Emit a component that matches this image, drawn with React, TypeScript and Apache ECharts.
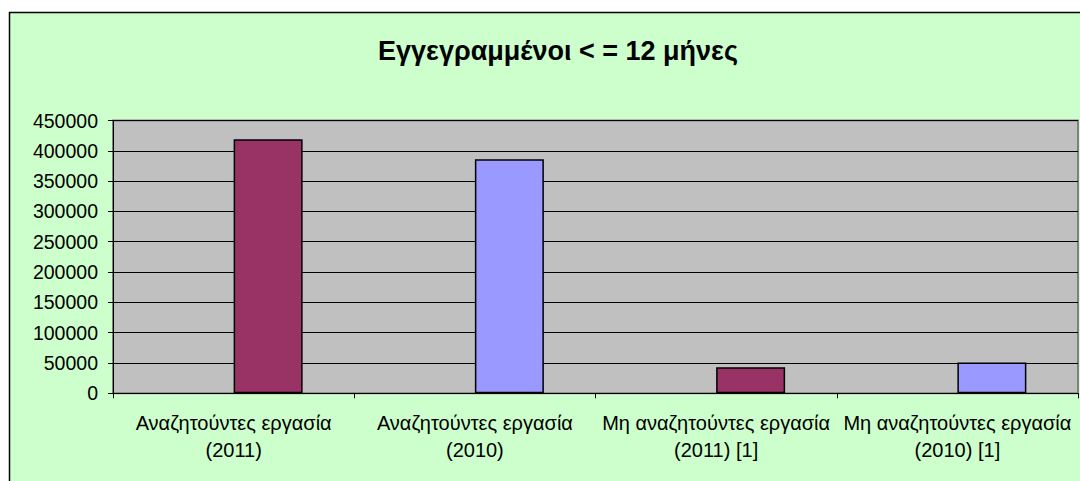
import React, { useEffect, useRef } from "react";
import * as echarts from "echarts";

const title = "Εγγεγραμμένοι < = 12 μήνες";
const categories = [
  "Αναζητούντες εργασία\n(2011)",
  "Αναζητούντες εργασία\n(2010)",
  "Μη αναζητούντες εργασία\n(2011) [1]",
  "Μη αναζητούντες εργασία\n(2010) [1]",
];
const emptySeries = [null, null, null, null];
const values = [419000, 386000, 43000, 51000];
const barColors = ["#993366", "#9999FF", "#993366", "#9999FF"];
const yTicks = { min: 0, max: 450000, interval: 50000 };

export default function App() {
  const ref = useRef<HTMLDivElement>(null);
  useEffect(() => {
    const chart = echarts.init(ref.current!, null, { renderer: "svg" });
    const font = "Arial, 'Liberation Sans', sans-serif";
    chart.setOption({
      animation: false,
      backgroundColor: "#FFFFFF",
      graphic: [
        {
          type: "rect",
          z: -10,
          silent: true,
          shape: { x: 9.5, y: 12.5, width: 1200, height: 600 },
          style: { fill: "#CCFFCC", stroke: "#000000", lineWidth: 1.5 },
        },
      ],
      title: {
        text: title,
        left: 553,
        textAlign: "center",
        top: 32,
        textStyle: { fontFamily: font, fontSize: 27, fontWeight: "bold", color: "#000" },
      },
      grid: {
        left: 113,
        top: 120.5,
        right: 2,
        bottom: 87.7,
        show: true,
        backgroundColor: "#C0C0C0",
        borderColor: "#808080",
        borderWidth: 2,
      },
      xAxis: {
        type: "category",
        data: categories,
        axisLine: { lineStyle: { color: "#000", width: 1 } },
        axisTick: { show: true, length: 5, lineStyle: { color: "#000" } },
        axisLabel: {
          margin: 16,
          fontFamily: font,
          fontSize: 20,
          lineHeight: 27,
          color: "#000",
          interval: 0,
        },
      },
      yAxis: {
        type: "value",
        min: yTicks.min,
        max: yTicks.max,
        interval: yTicks.interval,
        axisLine: { show: true, lineStyle: { color: "#000", width: 1 } },
        axisTick: { show: true, length: 5, lineStyle: { color: "#000" } },
        splitLine: { show: true, lineStyle: { color: "#000", width: 1 } },
        axisLabel: {
          margin: 15,
          fontFamily: font,
          fontSize: 19.5,
          color: "#000",
          formatter: (v: number) => String(v),
        },
      },
      series: [
        {
          type: "bar",
          name: "empty",
          data: emptySeries,
          barWidth: 69,
          barGap: 0,
        },
        {
          type: "bar",
          name: "values",
          data: values.map((v, i) => ({ value: v, itemStyle: { color: barColors[i] } })),
          barWidth: 69,
          barGap: 0,
          itemStyle: { borderColor: "#000", borderWidth: 1.5 },
        },
      ],
    });
    return () => chart.dispose();
  }, []);
  return (
    <div
      ref={ref}
      style={{ position: "absolute", left: 0, top: 0, width: 1080, height: 481 }}
    />
  );
}
